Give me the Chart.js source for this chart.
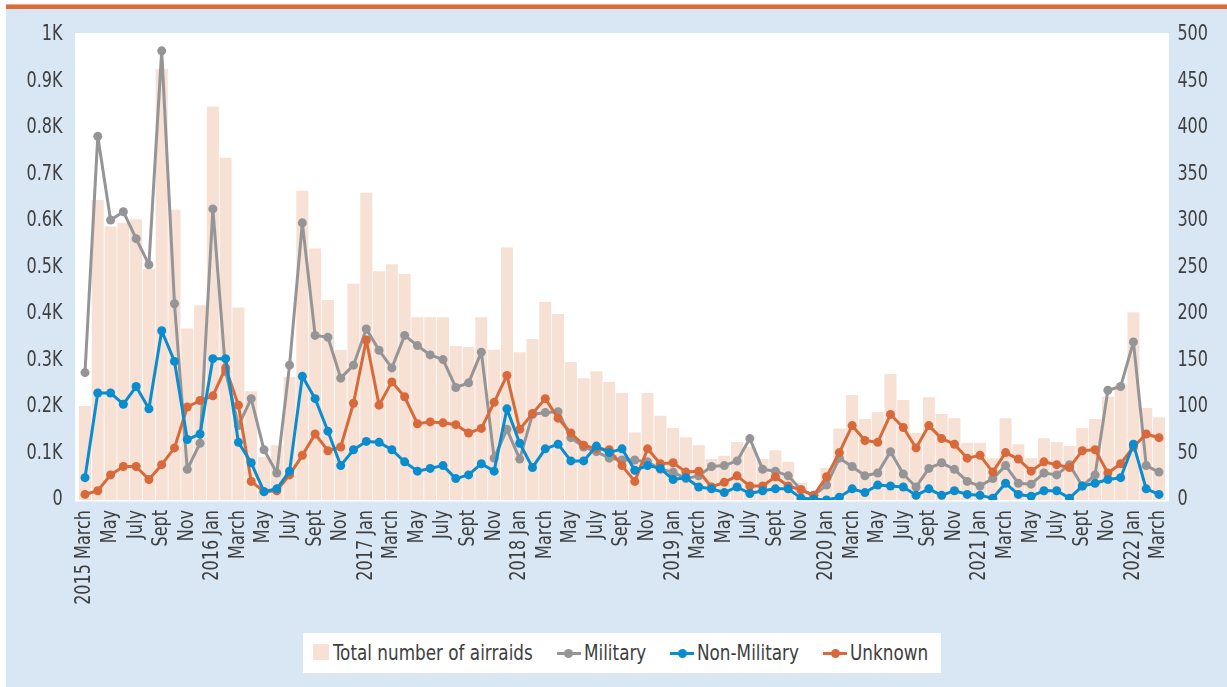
<!DOCTYPE html>
<html>
<head>
<meta charset="utf-8">
<script src="https://cdn.jsdelivr.net/npm/chart.js@4/dist/chart.umd.min.js"></script>
<style>
  html, body { margin: 0; padding: 0; background: #ffffff; }
  #wrap { position: relative; width: 1227px; height: 687px; overflow: hidden; }
  #band { position: absolute; left: 6px; top: 4px; right: 0; height: 4px; background: #d86c3a; border-top: 1px solid #eba98b; }
  #panel { position: absolute; left: 6px; top: 9px; right: 0; bottom: 0; background: #d9e7f5; }
  #c { position: absolute; left: 0; top: 0; }
  #legend {
    position: absolute; left: 303px; top: 633px; width: 638px; height: 40px; background: #ffffff;
    font-family: 'DejaVu Sans Condensed', 'Liberation Sans', sans-serif; font-size: 22px; color: #3e3e3e;
  }
  .key, .txt { position: absolute; }
  .txt { top: 7px; line-height: 26px; white-space: nowrap; transform-origin: 0 50%; }
  .swatch { top: 11px; width: 16px; height: 16px; }
  .mark { top: 19px; width: 24px; height: 3px; }
  .mark i { position: absolute; left: 7.5px; top: -3px; width: 9px; height: 9px; border-radius: 50%; }
</style>
</head>
<body>
<div id="wrap">
  <div id="band"></div>
  <div id="panel"></div>
  <canvas id="c" width="1227" height="687"></canvas>
  <div id="legend"></div>
</div>
<script>
// Months from March 2015 to March 2022 (only every other one is printed on the axis)
const months = [
  '2015 March','April','May','June','July','Aug','Sept','Oct','Nov','Dec',
  '2016 Jan','Feb','March','April','May','June','July','Aug','Sept','Oct','Nov','Dec',
  '2017 Jan','Feb','March','April','May','June','July','Aug','Sept','Oct','Nov','Dec',
  '2018 Jan','Feb','March','April','May','June','July','Aug','Sept','Oct','Nov','Dec',
  '2019 Jan','Feb','March','April','May','June','July','Aug','Sept','Oct','Nov','Dec',
  '2020 Jan','Feb','March','April','May','June','July','Aug','Sept','Oct','Nov','Dec',
  '2021 Jan','Feb','March','April','May','June','July','Aug','Sept','Oct','Nov','Dec',
  '2022 Jan','Feb','March'
];

// Total number of airraids per month (left axis)
const totalAirraids = [
  202, 645, 588, 596, 604, 497, 927, 624, 369, 419,
  846, 736, 414, 234, 93, 118, 265, 665, 541, 430, 323, 465,
  661, 492, 507, 486, 393, 393, 393, 331, 329, 393, 323, 543,
  318, 346, 426, 400, 297, 262, 277, 254, 230, 145, 230, 181,
  155, 135, 118, 88, 95, 125, 114, 88, 107, 82, 37, 13,
  69, 154, 226, 174, 189, 271, 215, 144, 221, 185, 176, 123,
  123, 90, 176, 120, 90, 133, 125, 116, 155, 174, 222, 249,
  404, 198, 178
];

// Airraids by target type (right axis)
const military = [
  137, 391, 301, 310, 281, 253, 483, 211, 33, 61,
  313, 138, 80, 109, 54, 29, 145, 298, 177, 175, 131, 145,
  184, 161, 142, 177, 166, 156, 151, 121, 126, 159, 45, 76,
  44, 92, 94, 95, 67, 57, 52, 45, 43, 43, 41, 33,
  30, 23, 26, 36, 37, 42, 66, 33, 31, 26, 11, 5,
  16, 45, 36, 26, 29, 52, 28, 14, 34, 40, 33, 20,
  15, 23, 37, 18, 17, 29, 27, 38, 15, 27, 118, 122,
  170, 37, 30
];
const nonMilitary = [
  24, 115, 115, 103, 122, 98, 182, 149, 65, 71,
  152, 152, 62, 40, 9, 12, 31, 133, 109, 74, 37, 54,
  63, 62, 54, 41, 31, 34, 37, 23, 27, 39, 31, 98,
  61, 35, 55, 60, 42, 42, 58, 51, 55, 32, 37, 34,
  22, 24, 14, 12, 8, 14, 7, 10, 12, 12, 2, 1,
  0, 3, 12, 8, 16, 15, 14, 5, 12, 5, 10, 6,
  5, 2, 18, 6, 4, 10, 10, 2, 15, 18, 22, 24,
  60, 12, 6
];
const unknown = [
  6, 10, 27, 36, 36, 22, 38, 56, 100, 107,
  112, 142, 102, 20, 9, 10, 27, 48, 71, 53, 57, 104,
  172, 102, 127, 111, 82, 84, 83, 81, 72, 77, 105, 134,
  76, 93, 109, 88, 72, 59, 55, 54, 37, 20, 55, 39,
  40, 30, 31, 14, 19, 26, 15, 15, 25, 15, 11, 5,
  25, 51, 80, 64, 62, 92, 78, 56, 80, 66, 60, 45,
  48, 30, 51, 44, 31, 41, 38, 35, 53, 54, 29, 39,
  57, 71, 67
];

const leftTicks = { min: 0, max: 1000, step: 100 };
const rightTicks = { min: 0, max: 500, step: 50 };

const FONT = "'DejaVu Sans Condensed', 'Liberation Sans', sans-serif";
const TEXT = '#3e3e3e';
const NARROW = 0.85;   // horizontal squeeze applied to all text
const COLORS = { total: '#f6e1d4', military: '#959597', nonMilitary: '#0a8dcf', unknown: '#d8693a' };

// Draws every canvas string slightly condensed along its own baseline
const condensedText = {
  id: 'condensedText',
  beforeInit(chart, args, opts) {
    const ctx = chart.ctx;
    const fill = ctx.fillText;
    ctx.fillText = function (text, x, y, maxWidth) {
      this.save();
      this.translate(x, y);
      this.scale(opts.factor, 1);
      if (maxWidth === undefined || maxWidth === null) fill.call(this, text, 0, 0);
      else fill.call(this, text, 0, 0, maxWidth / opts.factor);
      this.restore();
    };
  }
};

// White plotting background, slightly wider than the bars
const plotBackground = {
  id: 'plotBackground',
  beforeDraw(chart) {
    const a = chart.chartArea, ctx = chart.ctx;
    ctx.save();
    ctx.fillStyle = '#ffffff';
    ctx.fillRect(a.left - 3.5, a.top - 2, a.right - a.left + 7, a.bottom - a.top + 3.5);
    ctx.restore();
  }
};

function lineSet(label, data, color, order) {
  return {
    type: 'line', label, data, yAxisID: 'y1', order,
    borderColor: color, backgroundColor: color, borderWidth: 3, borderJoinStyle: 'round',
    pointRadius: 4.5, pointHoverRadius: 4.5, pointBorderWidth: 0,
    pointBackgroundColor: color, tension: 0
  };
}

const chart = new Chart(document.getElementById('c'), {
  type: 'bar',
  data: {
    labels: months,
    datasets: [
      { type: 'bar', label: 'Total number of airraids', data: totalAirraids, yAxisID: 'y', order: 10,
        backgroundColor: COLORS.total, barPercentage: 0.94, categoryPercentage: 1.0 },
      lineSet('Military', military, COLORS.military, 3),
      lineSet('Non-Military', nonMilitary, COLORS.nonMilitary, 1),
      lineSet('Unknown', unknown, COLORS.unknown, 2)
    ]
  },
  options: {
    responsive: false,
    animation: false,
    layout: { padding: { top: 35, left: 0, right: 0, bottom: 0 } },
    plugins: {
      legend: { display: false }, tooltip: { enabled: false },
      condensedText: { factor: NARROW }
    },
    scales: {
      x: {
        grid: { display: false, drawTicks: false }, border: { display: false },
        ticks: {
          autoSkip: false, maxRotation: 90, minRotation: 90, padding: 10,
          color: TEXT, font: { family: FONT, size: 21 },
          callback: (v, i) => (i % 2 === 0 ? months[i] : '')
        },
        afterFit(s) { s.height = 187; }
      },
      y: {
        position: 'left', min: leftTicks.min, max: leftTicks.max,
        grid: { display: false, drawTicks: false }, border: { display: false },
        ticks: {
          stepSize: leftTicks.step, padding: 16, color: TEXT, font: { family: FONT, size: 21 },
          callback: v => (v === 0 ? '0' : (Math.round(v / 100) / 10) + 'K')
        },
        afterFit(s) { s.width = 78.6; }
      },
      y1: {
        position: 'right', min: rightTicks.min, max: rightTicks.max,
        grid: { display: false, drawTicks: false }, border: { display: false },
        ticks: { stepSize: rightTicks.step, padding: 12, color: TEXT, font: { family: FONT, size: 21 } },
        afterFit(s) { s.width = 61.6; }
      }
    }
  },
  plugins: [condensedText, plotBackground]
});

// Legend built from the chart's own datasets, laid out left to right
const legend = document.getElementById('legend');
let cursor = 10;
chart.data.datasets.forEach(ds => {
  const key = document.createElement('span');
  const isBar = ds.type === 'bar';
  key.className = 'key ' + (isBar ? 'swatch' : 'mark');
  key.style.left = cursor + 'px';
  if (isBar) {
    key.style.background = ds.backgroundColor;
  } else {
    key.style.background = ds.borderColor;
    const dot = document.createElement('i');
    dot.style.background = ds.borderColor;
    key.appendChild(dot);
  }
  legend.appendChild(key);
  cursor += isBar ? 20 : 27;
  const text = document.createElement('span');
  text.className = 'txt';
  text.textContent = ds.label;
  text.style.left = cursor + 'px';
  text.style.transform = 'scaleX(' + NARROW + ')';
  legend.appendChild(text);
  cursor += text.getBoundingClientRect().width + 24;
});
</script>
</body>
</html>
